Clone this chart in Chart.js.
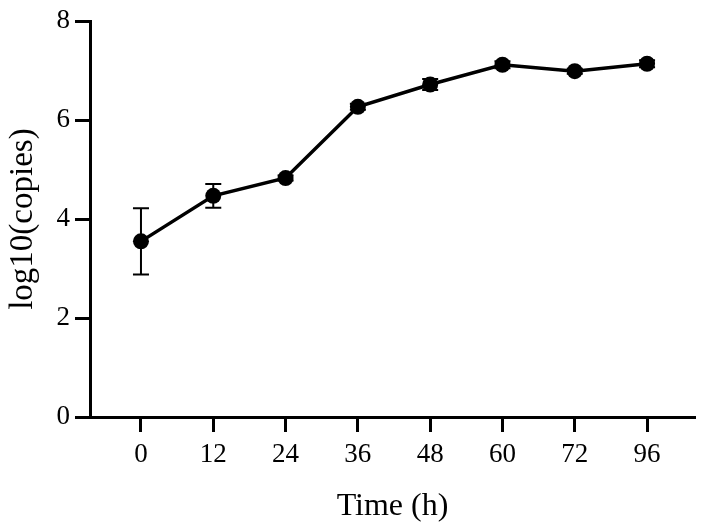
<!DOCTYPE html>
<html>
<head>
<meta charset="utf-8">
<script src="https://cdn.jsdelivr.net/npm/chart.js@4"></script>
<style>
html,body{margin:0;padding:0;background:#fff;}
#wrap{width:704px;height:530px;}
</style>
</head>
<body>
<div id="wrap"><canvas id="c" width="704" height="530"></canvas></div>
<script>
const timeLabels = ['0','12','24','36','48','60','72','96'];
const meanLog = [3.55, 4.47, 4.83, 6.27, 6.72, 7.12, 6.99, 7.14];
const sdLog = [0.67, 0.24, 0.05, 0.06, 0.11, 0.07, 0.05, 0.07];
const yTicks = [0, 2, 4, 6, 8];

const FONT = '"Liberation Serif", "Times New Roman", serif';

const errorBars = {
  id: 'errorBars',
  beforeDatasetsDraw(chart) {
    const ctx = chart.ctx;
    const xs = chart.scales.x, ys = chart.scales.y;
    ctx.save();
    ctx.strokeStyle = '#000';
    ctx.lineWidth = 2;
    meanLog.forEach((m, i) => {
      const x = xs.getPixelForValue(i);
      const yt = ys.getPixelForValue(m + sdLog[i]);
      const yb = ys.getPixelForValue(m - sdLog[i]);
      ctx.beginPath();
      ctx.moveTo(x, yt); ctx.lineTo(x, yb);
      ctx.moveTo(x - 8, yt); ctx.lineTo(x + 8, yt);
      ctx.moveTo(x - 8, yb); ctx.lineTo(x + 8, yb);
      ctx.stroke();
    });
    ctx.restore();
  }
};

new Chart(document.getElementById('c'), {
  type: 'line',
  data: {
    datasets: [{
      data: meanLog.map((v, i) => ({x: i, y: v})),
      borderColor: '#000',
      backgroundColor: '#000',
      borderWidth: 3.5,
      pointRadius: 8,
      pointHoverRadius: 8,
      pointBackgroundColor: '#000',
      pointBorderWidth: 0,
      tension: 0
    }]
  },
  options: {
    responsive: false,
    animation: false,
    layout: {padding: {top: 19, right: 9, left: 0, bottom: 0}},
    plugins: {legend: {display: false}, tooltip: {enabled: false}},
    scales: {
      x: {
        type: 'linear',
        min: -0.705,
        max: 7.663,
        afterBuildTicks(s) { s.ticks = timeLabels.map((t, i) => ({value: i})); },
        afterFit(s) { s.height = 113; },
        ticks: {
          autoSkip: false,
          maxRotation: 0,
          color: '#000',
          font: {family: FONT, size: 27},
          padding: 7,
          callback: (v) => timeLabels[v]
        },
        grid: {drawOnChartArea: false, drawTicks: true, tickLength: 15, tickWidth: 3, tickColor: '#000'},
        border: {display: true, color: '#000', width: 3},
        title: {display: true, text: 'Time (h)', color: '#000', font: {family: FONT, size: 32}, padding: {top: 0, bottom: 4}}
      },
      y: {
        min: 0,
        max: 8,
        afterBuildTicks(s) { s.ticks = yTicks.map(v => ({value: v})); },
        afterFit(s) { s.width = 90; },
        ticks: {color: '#000', font: {family: FONT, size: 27}, padding: 5},
        grid: {drawOnChartArea: false, drawTicks: true, tickLength: 15, tickWidth: 3, tickColor: '#000'},
        border: {display: true, color: '#000', width: 3},
        title: {display: true, text: 'log10(copies)', color: '#000', font: {family: FONT, size: 33}, padding: {top: 4, bottom: 0}}
      }
    }
  },
  plugins: [errorBars]
});
</script>
</body>
</html>
